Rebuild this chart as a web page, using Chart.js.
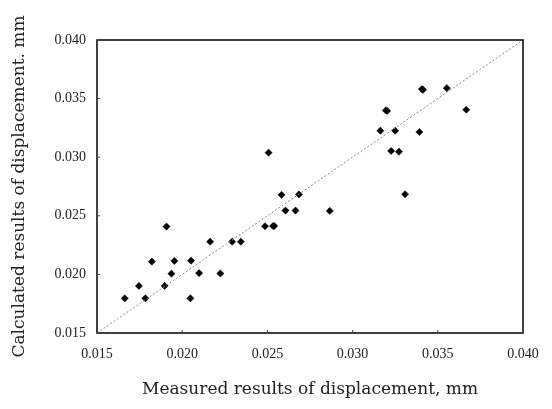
<!DOCTYPE html>
<html>
<head>
<meta charset="utf-8">
<script src="https://cdn.jsdelivr.net/npm/chart.js@4"></script>
<style>
  html, body { margin: 0; padding: 0; background: #fff; }
  #wrap { width: 552px; height: 409px; }
</style>
</head>
<body>
<div id="wrap"><canvas id="c" width="552" height="409"></canvas></div>
<script>
// Measured (x) and calculated (y) displacement, mm
const measured = [
  0.01663, 0.01746, 0.01784, 0.01822, 0.01897, 0.01908, 0.01937, 0.01954,
  0.02048, 0.02052, 0.02099, 0.02164, 0.02224, 0.02293, 0.02344, 0.02486,
  0.02507, 0.02533, 0.02540, 0.02583, 0.02606, 0.02665, 0.02685, 0.02866,
  0.03163, 0.03195, 0.03203, 0.03226, 0.03250, 0.03272, 0.03308, 0.03392,
  0.03407, 0.03413, 0.03553, 0.03667
];
const calculated = [
  0.01796, 0.01902, 0.01796, 0.02109, 0.01902, 0.02408, 0.02006, 0.02115,
  0.01796, 0.02117, 0.02011, 0.02279, 0.02008, 0.02279, 0.02279, 0.02411,
  0.03039, 0.02413, 0.02413, 0.02679, 0.02545, 0.02545, 0.02682, 0.02542,
  0.03226, 0.03399, 0.03396, 0.03053, 0.03226, 0.03047, 0.02684, 0.03215,
  0.03581, 0.03575, 0.03589, 0.03405
];
const axisMin = 0.015;
const axisMax = 0.040;
const tickStep = 0.005;
const xTitle = 'Measured results of displacement, mm';
const yTitle = 'Calculated results of displacement. mm';

const points = measured.map((x, i) => ({ x: x, y: calculated[i] }));
const diagonal = [{ x: axisMin, y: axisMin }, { x: axisMax, y: axisMax }];

const framePlugin = {
  id: 'frame',
  afterDatasetsDraw(chart) {
    const { ctx, chartArea: a, scales } = chart;
    ctx.save();
    ctx.strokeStyle = '#111';
    ctx.lineWidth = 1.6;
    ctx.strokeRect(a.left, a.top, a.right - a.left, a.bottom - a.top);
    ctx.lineWidth = 1;
    ctx.strokeStyle = '#444';
    scales.x.ticks.forEach(t => {
      const px = scales.x.getPixelForValue(t.value);
      ctx.beginPath(); ctx.moveTo(px, a.bottom); ctx.lineTo(px, a.bottom - 3); ctx.stroke();
    });
    scales.y.ticks.forEach(t => {
      const py = scales.y.getPixelForValue(t.value);
      ctx.beginPath(); ctx.moveTo(a.left, py); ctx.lineTo(a.left + 3, py); ctx.stroke();
    });
    ctx.restore();
  }
};

new Chart(document.getElementById('c'), {
  data: {
    datasets: [
      {
        type: 'line',
        data: diagonal,
        borderColor: '#8a8a8a',
        borderWidth: 1,
        borderDash: [2, 2],
        pointRadius: 0,
        fill: false
      },
      {
        type: 'scatter',
        data: points,
        pointStyle: 'rectRot',
        pointRadius: 3.6,
        pointBackgroundColor: '#000',
        pointBorderColor: '#000',
        pointBorderWidth: 0.5
      }
    ]
  },
  options: {
    responsive: false,
    animation: false,
    devicePixelRatio: 1,
    layout: { padding: { top: 40, right: 29, left: 0, bottom: 0 } },
    plugins: { legend: { display: false }, tooltip: { enabled: false } },
    scales: {
      x: {
        type: 'linear',
        min: axisMin, max: axisMax,
        grid: { display: false, drawTicks: false },
        border: { display: false },
        ticks: {
          stepSize: tickStep,
          padding: 13,
          color: '#222',
          font: { family: 'Liberation Serif', size: 14 },
          callback: v => v.toFixed(3)
        },
        title: {
          display: true,
          text: xTitle,
          color: '#222',
          font: { family: 'DejaVu Serif', size: 17 },
          padding: { top: 0, bottom: 9 }
        },
        afterFit: s => { s.height = 76; }
      },
      y: {
        type: 'linear',
        min: axisMin, max: axisMax,
        grid: { display: false, drawTicks: false },
        border: { display: false },
        ticks: {
          stepSize: tickStep,
          padding: 11,
          color: '#222',
          font: { family: 'Liberation Serif', size: 14 },
          callback: v => v.toFixed(3)
        },
        title: {
          display: true,
          text: yTitle,
          color: '#222',
          font: { family: 'DejaVu Serif', size: 17 },
          padding: { top: 9, bottom: 0 }
        },
        afterFit: s => { s.width = 97; }
      }
    }
  },
  plugins: [framePlugin]
});
</script>
</body>
</html>
